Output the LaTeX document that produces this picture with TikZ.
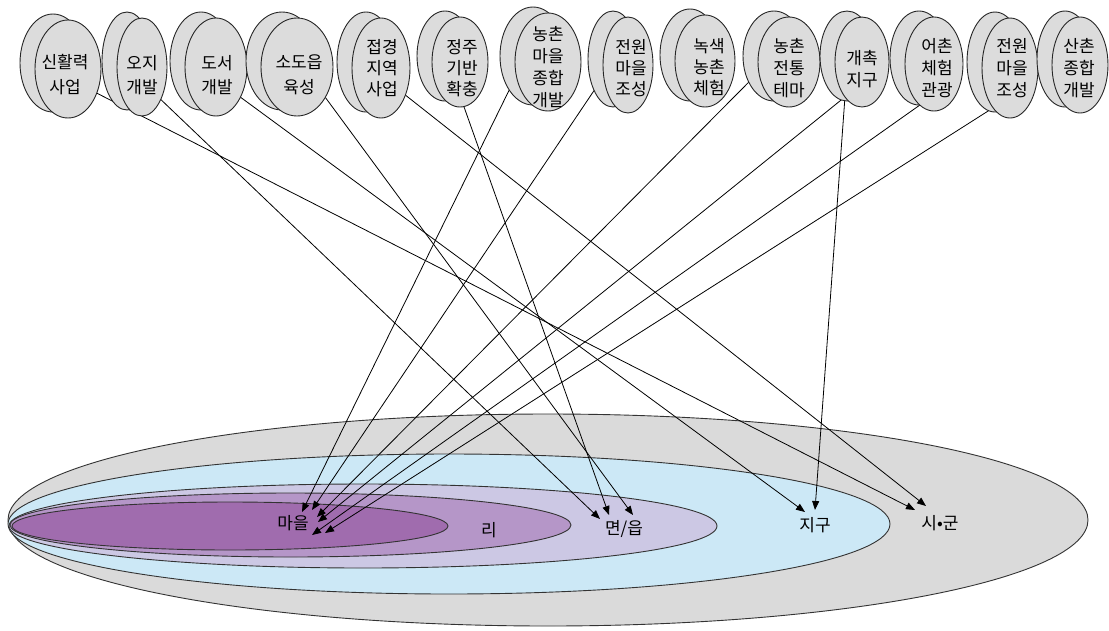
\documentclass[tikz,border=0pt]{standalone}
\usepackage{fontspec}
\newfontfamily\kr{Noto Sans CJK KR}
\usetikzlibrary{arrows.meta,shapes.geometric}
\pgfdeclarelayer{bg}\pgfdeclarelayer{mid}\pgfsetlayers{bg,mid,main}
\definecolor{topgray}{HTML}{DCDCDC}
\definecolor{zgray}{HTML}{DADADA}
\definecolor{zblue}{HTML}{CCE8F6}
\definecolor{zlav}{HTML}{CCC8E4}
\definecolor{zmid}{HTML}{B596C8}
\definecolor{zdark}{HTML}{A06CAE}
\tikzset{
  topell/.style={ellipse, draw=black!85, line width=0.9pt, fill=topgray, inner sep=0pt, outer sep=0pt},
  toptext/.style={align=center, inner sep=0pt},
  zone/.style={ellipse, draw=black!80, line width=0.9pt, inner sep=0pt, outer sep=0pt},
  zlabel/.style={font=\kr\fontsize{17}{20}\selectfont, inner sep=0pt},
  arr/.style={draw=black, line width=0.8pt, -{Triangle[length=9pt,width=7pt]}}
}
\begin{document}
\begin{tikzpicture}[x=1pt,y=-1pt]
\useasboundingbox (0,0) rectangle (1109,630);

% ---- bottom zones ----
\begin{pgfonlayer}{bg}
\node[zone, fill=zgray, minimum width=1080pt, minimum height=212pt] (zgun) at (548,520) {};
\node[zone, fill=zblue, minimum width=882pt, minimum height=140pt] (zjigu) at (449,524) {};
\node[zone, fill=zlav, minimum width=708pt, minimum height=84pt] (zmyeon) at (363,526) {};
\node[zone, fill=zmid, minimum width=561pt, minimum height=64pt] (zri) at (290.5,525) {};
\node[zone, fill=zdark, minimum width=436pt, minimum height=48pt] (zmaeul) at (230,526) {};
\node[zlabel] (lmaeul) at (293,523) {마을};
\node[zlabel] (lri) at (489,530) {리};
\node[zlabel] (lmyeon) at (624,529) {면/읍};
\node[zlabel] (ljigu) at (815,525) {지구};
\node[zlabel] (lgun) at (940,523) {시•군};
\end{pgfonlayer}

% ---- top ellipses ----
\foreach \i/\cx/\cy/\rx/\ry/\tx/\ty/\bs/\txt in {
  1/68/69/33/49/65/74.5/24.5/{신활력\\사업},
  2/142/67/25/49/142/75/24.5/{오지\\개발},
  3/216/67/31/49/217/75/24.5/{도서\\개발},
  4/297/67/36/49/299/75/24.5/{소도읍\\육성},
  5/381/68/29/50/382/68/21/{접경\\지역\\사업},
  6/460/62/28/45/462/68/21/{정주\\기반\\확충},
  7/548/62/33/49/548/67/22/{농촌\\마을\\종합\\개발},
  8/628/65/25/48/631/68/21/{전원\\마을\\조성},
  9/705/61/30/46/709/67/21/{녹색\\농촌\\체험},
  10/789/62/31/45/789/68/22/{농촌\\전통\\테마},
  11/862/62/27/45/862/69/22/{개촉\\지구},
  12/934/64/29/47/937/68/22/{어촌\\체험\\관광},
  13/1010/68/28/50/1012/68/22/{전원\\마을\\조성},
  14/1080/65/28/48/1079/68/22/{산촌\\종합\\개발}}{
  \node[topell, minimum width=2*\rx pt, minimum height=2*\ry pt] (b\i) at ({\cx-15},{\cy-6}) {};
  \node[topell, minimum width=2*\rx pt, minimum height=2*\ry pt] (f\i) at (\cx,\cy) {};
  \node[toptext, font=\kr\fontsize{17}{\bs}\selectfont] (t\i) at (\tx,\ty) {\txt};
}

% ---- arrow tips ----
\coordinate (tsg1) at (915,510);
\coordinate (tsg2) at (926,506);
\coordinate (tjg1) at (805,512);
\coordinate (tjg2) at (815,510);
\coordinate (tmy1) at (600,519);
\coordinate (tmy2) at (609,515);
\coordinate (tmy3) at (633,515);
\coordinate (tm1) at (302,512);
\coordinate (tm2) at (312,510);
\coordinate (tm3) at (317,517);
\coordinate (tm4) at (318,522);
\coordinate (tm5) at (325,533);
\coordinate (tm6) at (312,535);

% ---- connectors ----
\begin{pgfonlayer}{mid}
\draw[arr] (f1.-40) -- (tsg1);
\draw[arr] (f2.-60) -- (tmy1);
\draw[arr] (f3.-51) -- (tjg1);
\draw[arr] (f4.-47) -- (tmy3);
\draw[arr] (f5.-48) -- (tsg2);
\draw[arr] (f6.-85) -- (tmy2);
\draw[arr] (b7.-125) -- (tm1);
\draw[arr] (b8.-121) -- (tm2);
\draw[arr] (b10.-134) -- (tm3);
\draw[arr] (f11.-116) -- (tm4);
\draw[arr] (f11.-116) -- (tjg2);
\draw[arr] (f12.-109) -- (tm6);
\draw[arr] (f13.-113) -- (tm5);
\end{pgfonlayer}
\end{tikzpicture}
\end{document}
